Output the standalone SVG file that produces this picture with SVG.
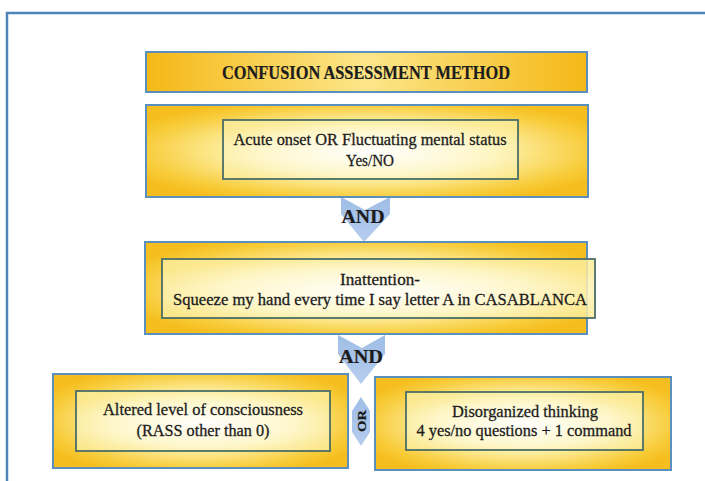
<svg xmlns="http://www.w3.org/2000/svg" width="705" height="481" viewBox="0 0 705 481">
  <defs>
    <radialGradient id="gOuter" cx="0.5" cy="0.5" r="0.6">
      <stop offset="0" stop-color="#fffdf0"/>
      <stop offset="0.5" stop-color="#fdf0a6"/>
      <stop offset="0.85" stop-color="#f8cc3a"/>
      <stop offset="1" stop-color="#f5be1e"/>
    </radialGradient>
    <linearGradient id="gTitle" x1="0" y1="0" x2="1" y2="0">
      <stop offset="0" stop-color="#f5b816"/>
      <stop offset="0.5" stop-color="#fce68a"/>
      <stop offset="1" stop-color="#f5b816"/>
    </linearGradient>
    <radialGradient id="gInner" cx="0.5" cy="0.55" r="0.6">
      <stop offset="0" stop-color="#ffffff"/>
      <stop offset="0.6" stop-color="#fef8d2"/>
      <stop offset="1" stop-color="#fcec9a"/>
    </radialGradient>
    <linearGradient id="gArrow" x1="0" y1="0" x2="0" y2="1">
      <stop offset="0" stop-color="#9fbde6"/>
      <stop offset="1" stop-color="#b6cdee"/>
    </linearGradient>
  </defs>
  <style>
    .frame { fill: none; stroke: #4d86b6; stroke-width: 2.5; }
    .outer { fill: url(#gOuter); stroke: #5a90bb; stroke-width: 2; }
    .title { fill: url(#gTitle); stroke: #5a90bb; stroke-width: 2; }
    .inner { fill: url(#gInner); fill-opacity: 0.85; stroke: #4a6e68; stroke-width: 1.8; }
    .arrow { fill: url(#gArrow); stroke: none; }
    .lbl { fill: #1c1c1c; stroke: #1c1c1c; stroke-width: 0.3; text-anchor: middle; }
    .t { font-size: 17px; }
    .b { font-weight: bold; stroke-width: 0.2; }
  </style>

  <rect class="frame" x="7" y="13" width="720" height="500"/>

  <g id="connectors" font-family="'Liberation Serif', 'DejaVu Serif', serif">
    <path class="arrow" d="M341,197 L365,210 L390,197 L390,214 L364,242 L341,214 Z"/>
    <path class="arrow" d="M338,335 L362,348 L385,335 L385,354 L361,384 L338,354 Z"/>
    <path class="arrow" d="M361,397 L370,411 L370,432 L361,446 L352,432 L352,411 Z"/>
    <text class="lbl b" x="363" y="223" font-size="18" textLength="43" lengthAdjust="spacingAndGlyphs">AND</text>
    <text class="lbl b" x="361" y="363" font-size="18" textLength="44" lengthAdjust="spacingAndGlyphs">AND</text>
    <text class="lbl b" x="0" y="0" font-size="13" textLength="22" lengthAdjust="spacingAndGlyphs" transform="translate(361,421) rotate(-90) translate(0,4.5)">OR</text>
  </g>

  <g id="title" font-family="'Liberation Serif', 'DejaVu Serif', serif">
    <rect class="title" x="146" y="52" width="441" height="40"/>
    <text class="lbl b" x="366" y="79" font-size="18" textLength="288" lengthAdjust="spacingAndGlyphs">CONFUSION ASSESSMENT METHOD</text>
  </g>

  <g id="acute-onset" font-family="'Liberation Serif', 'DejaVu Serif', serif">
    <rect class="outer" x="146" y="105" width="442" height="92"/>
    <rect class="inner" x="223" y="120" width="295" height="59"/>
    <text class="lbl t" x="370" y="145" textLength="273" lengthAdjust="spacingAndGlyphs">Acute onset OR Fluctuating mental status</text>
    <text class="lbl t" x="370" y="166" textLength="48" lengthAdjust="spacingAndGlyphs">Yes/NO</text>
  </g>

  <g id="inattention" font-family="'Liberation Serif', 'DejaVu Serif', serif">
    <rect class="outer" x="145" y="242" width="442" height="92"/>
    <rect class="inner" x="162" y="259" width="433" height="59" fill-opacity="0.55"/>
    <text class="lbl t" x="380" y="285" textLength="80" lengthAdjust="spacingAndGlyphs">Inattention-</text>
    <text class="lbl t" x="380" y="305" textLength="414" lengthAdjust="spacingAndGlyphs">Squeeze my hand every time I say letter A in CASABLANCA</text>
  </g>

  <g id="altered-consciousness" font-family="'Liberation Serif', 'DejaVu Serif', serif">
    <rect class="outer" x="53" y="374" width="295" height="94"/>
    <rect class="inner" x="76" y="391" width="254" height="60"/>
    <text class="lbl t" x="203" y="415" textLength="200" lengthAdjust="spacingAndGlyphs">Altered level of consciousness</text>
    <text class="lbl t" x="203" y="436" textLength="133" lengthAdjust="spacingAndGlyphs">(RASS other than 0)</text>
  </g>

  <g id="disorganized-thinking" font-family="'Liberation Serif', 'DejaVu Serif', serif">
    <rect class="outer" x="375" y="377" width="296" height="93"/>
    <rect class="inner" x="406" y="392" width="237" height="58"/>
    <text class="lbl t" x="525" y="417" textLength="146" lengthAdjust="spacingAndGlyphs">Disorganized thinking</text>
    <text class="lbl t" x="524" y="436" textLength="215" lengthAdjust="spacingAndGlyphs">4 yes/no questions + 1 command</text>
  </g>
</svg>
